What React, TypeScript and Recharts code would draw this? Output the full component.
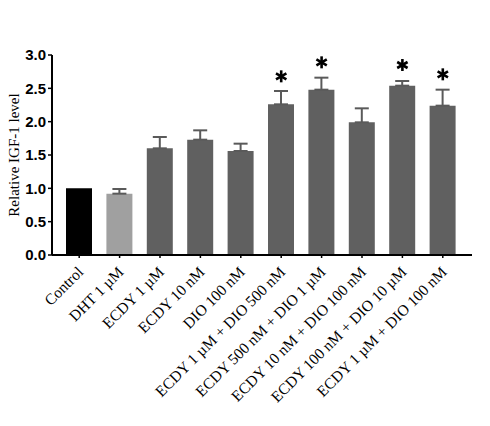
import { ComposedChart, Bar, XAxis, YAxis, ErrorBar, Cell, Scatter } from "recharts";

const categories = [
  "Control",
  "DHT 1 µM",
  "ECDY 1 µM",
  "ECDY 10 nM",
  "DIO 100 nM",
  "ECDY 1 µM + DIO 500 nM",
  "ECDY 500 nM + DIO 1 µM",
  "ECDY 10 nM + DIO 100 nM",
  "ECDY 100 nM + DIO 10 µM",
  "ECDY 1 µM + DIO 100 nM",
];
const levels = [1.0, 0.92, 1.6, 1.73, 1.56, 2.26, 2.48, 1.99, 2.54, 2.24];
// upper error only; control has none
const errors = [null, 0.07, 0.17, 0.14, 0.11, 0.2, 0.18, 0.21, 0.07, 0.24];
// star marker height (null = no significance mark)
const stars = [null, null, null, null, null, 2.68, 2.89, null, 2.85, 2.71];
const yTicks = [0, 0.5, 1.0, 1.5, 2.0, 2.5, 3.0];

const barColors = ["#000000", "#a0a0a0", "#606060", "#606060", "#606060", "#606060", "#606060", "#606060", "#606060", "#606060"];

const data = categories.map((name, i) => ({
  name,
  level: levels[i],
  err: errors[i] == null ? null : [0, errors[i]],
  star: stars[i],
}));

const serif = "'Liberation Serif', 'Times New Roman', serif";
const sans = "'Liberation Sans', Arial, sans-serif";

function CategoryTick(props: any) {
  const { x, y, payload } = props;
  return (
    <text
      x={x + 5}
      y={y + 13}
      transform={`rotate(-45, ${x + 5}, ${y + 13})`}
      textAnchor="end"
      fontFamily={serif}
      fontSize={15.5}
      fill="#000"
    >
      {payload.value}
    </text>
  );
}

function Star(props: any) {
  const { cx, cy } = props;
  if (cx == null || cy == null) return null;
  const r = 6;
  const spokes = [90, 30, -30].map((deg) => {
    const a = (deg * Math.PI) / 180;
    return (
      <line
        key={deg}
        x1={cx - r * Math.cos(a)}
        y1={cy - r * Math.sin(a)}
        x2={cx + r * Math.cos(a)}
        y2={cy + r * Math.sin(a)}
        stroke="#000"
        strokeWidth={2.6}
      />
    );
  });
  return <g>{spokes}</g>;
}

export default function App() {
  return (
    <div style={{ position: "absolute", left: 0, top: 0, width: 490, height: 426, background: "#fff" }}>
      <ComposedChart
        width={490}
        height={426}
        data={data}
        margin={{ top: 55, right: 18, bottom: 0, left: 0 }}
      >
        <XAxis
          dataKey="name"
          interval={0}
          height={171}
          padding={{ left: 7, right: 9 }}
          axisLine={{ stroke: "#000", strokeWidth: 2 }}
          tickLine={{ stroke: "#000", strokeWidth: 1.5 }}
          tickSize={3}
          tick={<CategoryTick />}
        />
        <YAxis
          width={52}
          domain={[0, 3]}
          ticks={yTicks}
          interval={0}
          tickFormatter={(v) => v.toFixed(1)}
          axisLine={{ stroke: "#000", strokeWidth: 2 }}
          tickLine={{ stroke: "#000", strokeWidth: 1.5 }}
          tickSize={4}
          tickMargin={2}
          tick={{ fill: "#000", fontFamily: sans, fontWeight: "bold", fontSize: 15 }}
          label={{
            value: "Relative IGF-1 level",
            angle: -90,
            position: "insideLeft",
            offset: 14,
            style: { textAnchor: "middle", fontFamily: serif, fontSize: 15, fill: "#000" },
          }}
        />
        <Bar dataKey="level" barSize={26} isAnimationActive={false}>
          {data.map((_, i) => (
            <Cell key={`cell-${i}`} fill={barColors[i]} />
          ))}
          <ErrorBar dataKey="err" width={7} stroke="#5a5a5a" strokeWidth={2} direction="y" />
        </Bar>
        <Scatter dataKey="star" shape={<Star />} isAnimationActive={false} />
      </ComposedChart>
    </div>
  );
}
